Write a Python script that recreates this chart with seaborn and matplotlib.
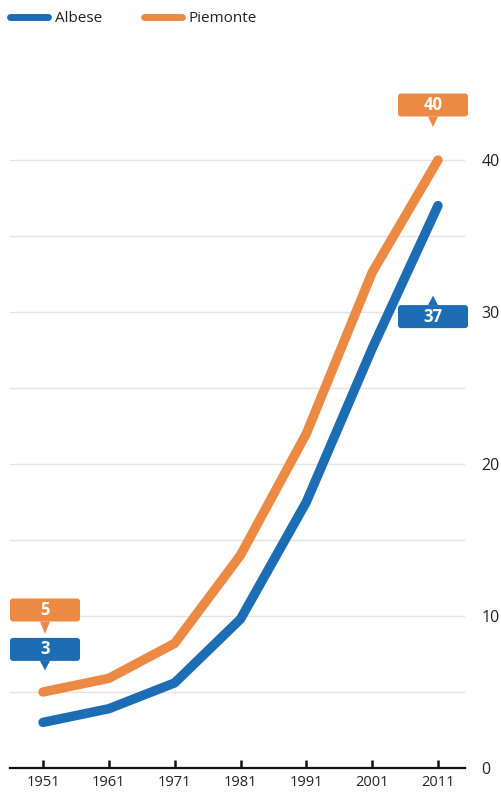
import matplotlib
matplotlib.use("Agg")
import matplotlib.pyplot as plt
import matplotlib.transforms as mtransforms
from matplotlib.lines import Line2D
from matplotlib.patches import FancyBboxPatch, Polygon
import pandas as pd
import seaborn as sns

# Census years and values for the two series
years = [1951, 1961, 1971, 1981, 1991, 2001, 2011]
albese = [3, 3.9, 5.6, 9.8, 17.5, 27.6, 37]
piemonte = [5, 5.9, 8.2, 14.0, 22.0, 32.6, 40]
series_names = ["Albese", "Piemonte"]
series_colors = ["#1c6db4", "#ec8a43"]
y_ticks = [0, 10, 20, 30, 40]
grid_levels = [5, 10, 15, 20, 25, 30, 35, 40]

df = pd.DataFrame({
    "anno": years * 2,
    "valore": albese + piemonte,
    "serie": [series_names[0]] * len(years) + [series_names[1]] * len(years),
})
palette = dict(zip(series_names, series_colors))

sns.set_theme(style="white")
plt.rcParams["font.family"] = ["Open Sans", "DejaVu Sans"]

W, H = 502, 799
fig = plt.figure(figsize=(W / 100, H / 100), dpi=100)
ax = fig.add_axes([10 / W, 31 / H, 455 / W, 684 / H])

for g in grid_levels:
    ax.axhline(g, color="#e3e3e3", lw=1.0, zorder=0)

sns.lineplot(data=df, x="anno", y="valore", hue="serie", palette=palette,
             lw=6.8, ax=ax, legend=False, solid_capstyle="round",
             solid_joinstyle="round", zorder=3)

ax.set_xlim(1951 - 33 / 6.5833, 2011 + 27 / 6.5833)
ax.set_ylim(0, 45)
ax.set_xlabel("")
ax.set_ylabel("")
ax.set_xticks(years)
ax.set_xticklabels([str(y) for y in years])
ax.set_yticks(y_ticks)
ax.set_yticklabels([str(v) for v in y_ticks])

for side in ["top", "left", "right"]:
    ax.spines[side].set_visible(False)
ax.spines["bottom"].set_color("#111111")
ax.spines["bottom"].set_linewidth(1.6)

ax.tick_params(axis="x", direction="in", length=6, width=1.8, color="#111111",
               labelsize=10.5, labelcolor="#222222", pad=5, bottom=True)
ax.tick_params(axis="y", left=False, right=False, length=0, labelleft=False,
               labelright=True, labelsize=11.5, labelcolor="#222222", pad=12)


def callout(x, y, text, color, dx, dy, tip_dy):
    """Rounded label box with a small pointer, placed in pixel offsets from a data point."""
    trans = fig.dpi_scale_trans + mtransforms.ScaledTranslation(x, y, ax.transData)
    w, h = 70, 23
    cx, cy = dx, dy
    box = FancyBboxPatch(((cx - w / 2) / 100, (cy - h / 2) / 100), w / 100, h / 100,
                         boxstyle="round,pad=0,rounding_size=0.03",
                         fc=color, ec="none", transform=trans, zorder=5,
                         clip_on=False)
    ax.add_patch(box)
    edge = cy - h / 2 if tip_dy < cy else cy + h / 2
    tri = Polygon([((cx - 5) / 100, edge / 100), ((cx + 5) / 100, edge / 100),
                   (cx / 100, tip_dy / 100)], closed=True, fc=color, ec="none",
                  transform=trans, zorder=5, clip_on=False)
    ax.add_patch(tri)
    ax.text(cx / 100, cy / 100, text, transform=trans, ha="center", va="center",
            color="white", fontsize=12, fontweight="bold", zorder=6)


callout(years[-1], piemonte[-1], f"{piemonte[-1]:g}", series_colors[1], -5, 55, 33)
callout(years[-1], albese[-1], f"{albese[-1]:g}", series_colors[0], -5, -111, -90)
callout(years[0], piemonte[0], f"{piemonte[0]:g}", series_colors[1], 2, 82, 58)
callout(years[0], albese[0], f"{albese[0]:g}", series_colors[0], 2, 73, 52)

handles = [Line2D([0], [0], color=c, lw=5, solid_capstyle="round") for c in series_colors]
fig.legend(handles, series_names, loc="upper left", bbox_to_anchor=(10 / W, 1 - 11 / H),
           bbox_transform=fig.transFigure, ncol=2, frameon=False, fontsize=11,
           handlelength=2.5, handletextpad=0.45, columnspacing=2.7,
           borderaxespad=0, borderpad=0, labelcolor="#222222")

fig.savefig("out.png", dpi=100)
